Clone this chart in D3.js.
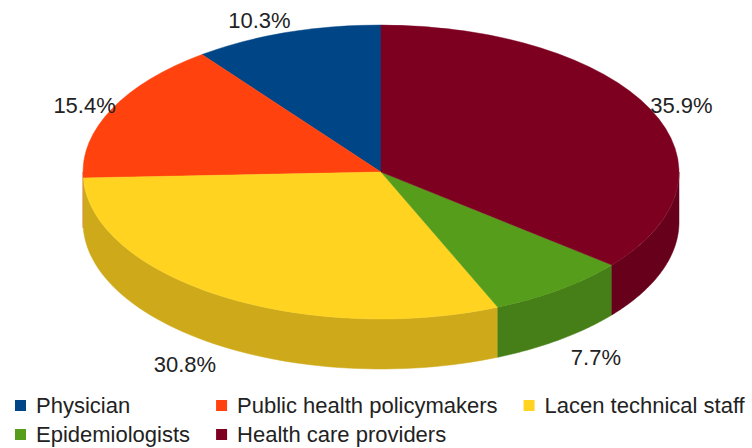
<!DOCTYPE html>
<html>
<head>
<meta charset="utf-8">
<script src="https://cdn.jsdelivr.net/npm/d3@7"></script>
<style>
  body { margin: 0; background: #ffffff; }
  svg { display: block; font-family: "Liberation Sans", Arial, sans-serif; }
</style>
</head>
<body>
<svg id="chart" width="752" height="448"></svg>
<script>
// data
const categories = ["Physician", "Public health policymakers", "Lacen technical staff", "Epidemiologists", "Health care providers"];
const counts = [4, 6, 12, 3, 14];
const palette = ["#004586", "#ff420e", "#ffd320", "#579d1c", "#7e0021"];

const W = 752, H = 448;
const cx = 381, cy = 172, rx = 298, ry = 147, depth = 50;

const svg = d3.select("#chart");
const color = d3.scaleOrdinal().domain(categories).range(palette);
const pct = d3.format(".1%");
const total = d3.sum(counts);

// counter-clockwise from 12 o'clock
const pie = d3.pie().sort(null).startAngle(0).endAngle(-2 * Math.PI);
const slices = pie(counts).map((d, i) => ({ ...d, name: categories[i] }));

const px = a => cx + rx * Math.sin(a);
const py = (a, off) => cy - ry * Math.cos(a) + (off || 0);

// side walls (front half only: a in (-3PI/2, -PI/2))
const sideG = svg.append("g");
const lo = -1.5 * Math.PI, hi = -0.5 * Math.PI;
slices.forEach(d => {
  let a0 = Math.max(Math.min(d.startAngle, d.endAngle), lo);
  let a1 = Math.min(Math.max(d.startAngle, d.endAngle), hi);
  if (a1 <= a0) return;
  const steps = d3.range(0, 61).map(k => a0 + (a1 - a0) * k / 60);
  const pts = steps.map(a => [px(a), py(a)])
    .concat(steps.slice().reverse().map(a => [px(a), py(a, depth)]));
  sideG.append("path")
    .attr("d", d3.line()(pts) + "Z")
    .attr("fill", d3.color(color(d.name)).darker(0.6))
    .attr("stroke", d3.color(color(d.name)).darker(0.6))
    .attr("stroke-width", 0.5);
});

// top faces
const arc = d3.arc().innerRadius(0).outerRadius(rx);
svg.append("g")
  .attr("transform", `translate(${cx},${cy}) scale(1,${ry / rx})`)
  .selectAll("path")
  .data(slices)
  .join("path")
  .attr("d", arc)
  .attr("fill", d => color(d.name))
  .attr("stroke", d => color(d.name))
  .attr("stroke-width", 0.6);

// percentage labels
const labelG = svg.append("g")
  .style("font-size", "22px")
  .attr("fill", "#222");
slices.forEach(d => {
  const a = (d.startAngle + d.endAngle) / 2;
  const sx = Math.sin(a), cy_ = -Math.cos(a);
  const front = cy_ > 0;
  let x = px(a), y = py(a, front ? depth : 0);
  if (front) { x += sx * 18; y += cy_ * 4; }
  let anchor = "middle";
  if (sx < -0.1) anchor = "end";
  else if (sx > 0.1) anchor = "start";
  let base;
  if (Math.abs(cy_) < 0.5) base = y + 4;
  else if (cy_ < 0) base = y - 5;
  else base = y + 22;
  labelG.append("text")
    .attr("x", x + (anchor === "end" ? 4 : 0))
    .attr("y", base)
    .attr("text-anchor", anchor)
    .text(pct(d.data / total));
});

// legend: 3 columns, row-wise
const nCols = 3, sym = 11, symGap = 10, colGap = 26;
const rowY = [413, 442];
const legend = svg.append("g").style("font-size", "22px").attr("fill", "#222");
const items = categories.map((c, i) => ({ name: c, col: i % nCols, row: Math.floor(i / nCols) }));
const texts = items.map(it => legend.append("text").text(it.name));
const widths = texts.map(t => t.node().getComputedTextLength());
const colW = d3.range(nCols).map(c => d3.max(items.filter(it => it.col === c), it => widths[items.indexOf(it)]));
let start = 15;
const colX = [];
colW.forEach((w, c) => { colX.push(start); start += sym + symGap + w + colGap; });
items.forEach((it, i) => {
  const x = colX[it.col], y = rowY[it.row];
  legend.append("rect")
    .attr("x", x).attr("y", y - 13)
    .attr("width", sym).attr("height", sym)
    .attr("fill", color(it.name));
  texts[i].attr("x", x + sym + symGap).attr("y", y);
});
</script>
</body>
</html>
